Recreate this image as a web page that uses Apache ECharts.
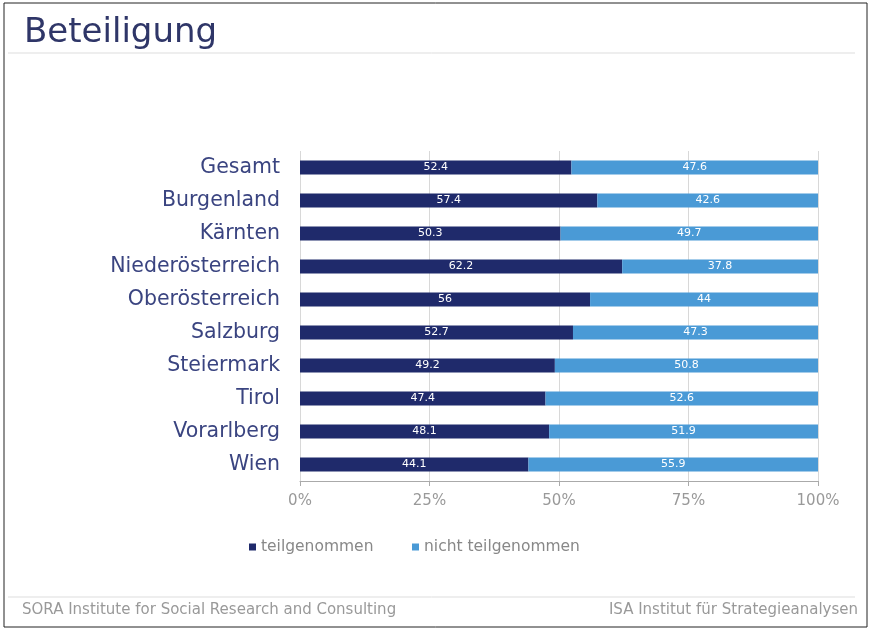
<!DOCTYPE html>
<html><head><meta charset="utf-8">
<script src="https://cdn.jsdelivr.net/npm/echarts@6/dist/echarts.min.js"></script>
<style>html,body{margin:0;padding:0;background:#fff}#c{width:870px;height:630px}</style>
</head><body><div id="c"></div>
<script>
const categories = ["Gesamt","Burgenland","Kärnten","Niederösterreich","Oberösterreich","Salzburg","Steiermark","Tirol","Vorarlberg","Wien"];
const teilgenommen = [52.4,57.4,50.3,62.2,56,52.7,49.2,47.4,48.1,44.1];
const nichtTeilgenommen = [47.6,42.6,49.7,37.8,44,47.3,50.8,52.6,51.9,55.9];
const tickLabels = ["0%","25%","50%","75%","100%"];
const seriesNames = ["teilgenommen","nicht teilgenommen"];

const F = 'DejaVu Sans';
const chart = echarts.init(document.getElementById('c'));
const lbl = {show:true, position:'inside', color:'#fff', fontSize:11, fontFamily:F};
const legTxt = {color:'#888', fontSize:15.5, fontFamily:F};
chart.setOption({
  animation:false,
  title:{text:'Beteiligung', left:19, top:11, textStyle:{fontFamily:F, fontSize:34, fontWeight:'normal', color:'#2f3668'}},
  legend:[
    {left:244, top:534, itemWidth:7, itemHeight:7, icon:'rect', itemGap:4, textStyle:legTxt, data:[seriesNames[0]]},
    {left:407, top:534, itemWidth:7, itemHeight:7, icon:'rect', itemGap:4, textStyle:legTxt, data:[seriesNames[1]]}
  ],
  grid:{left:300, right:52, top:151, height:330},
  xAxis:{type:'value', min:0, max:100, interval:25,
    axisLabel:{formatter:v=>tickLabels[v/25], color:'#999', fontSize:15, fontFamily:F, margin:13},
    axisLine:{show:true, lineStyle:{color:'#aaa'}}, axisTick:{show:true, length:5, lineStyle:{color:'#aaa'}},
    splitLine:{show:true, lineStyle:{color:'#d8d8d8'}}},
  yAxis:{type:'category', inverse:true, data:categories,
    axisLabel:{color:'#3a4480', fontSize:20.5, fontFamily:F, margin:20},
    axisLine:{show:false}, axisTick:{show:false}},
  series:[
    {name:seriesNames[0], type:'bar', stack:'s', data:teilgenommen, barWidth:14, itemStyle:{color:'#1f2a6b'}, label:lbl},
    {name:seriesNames[1], type:'bar', stack:'s', data:nichtTeilgenommen, barWidth:14, itemStyle:{color:'#4a9ad6'}, label:lbl}
  ],
  graphic:[
    {type:'rect', shape:{x:4,y:3,width:863,height:624}, style:{fill:'none', stroke:'#222', lineWidth:1}},
    {type:'line', shape:{x1:8,y1:53,x2:855,y2:53}, style:{stroke:'#ddd', lineWidth:1}},
    {type:'line', shape:{x1:8,y1:597,x2:855,y2:597}, style:{stroke:'#ddd', lineWidth:1}},
    {type:'text', left:22, top:603, style:{text:'SORA Institute for Social Research and Consulting', fill:'#999', fontSize:15, fontFamily:F}},
    {type:'text', right:12, top:603, style:{text:'ISA Institut für Strategieanalysen', fill:'#999', fontSize:15, fontFamily:F}}
  ]
});
</script></body></html>
